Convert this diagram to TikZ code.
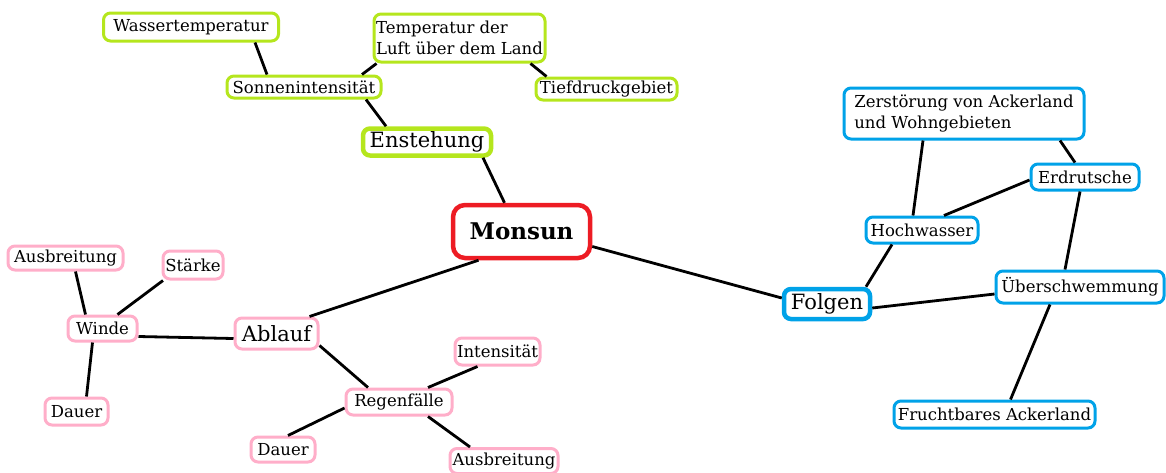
\documentclass[tikz,border=0pt]{standalone}
\usepackage{fontspec}
\setmainfont{DejaVu Serif}
\definecolor{PaintGreen}{HTML}{B5E61D}
\definecolor{PaintRed}{HTML}{ED1C24}
\definecolor{PaintBlue}{HTML}{00A2E8}
\definecolor{PaintPink}{HTML}{FFAEC9}

\begin{document}
\begin{tikzpicture}[x=1pt, y=-1pt,
    box/.style={draw=#1, rounded corners=7pt, line width=3pt, fill=white, text=black,
        inner xsep=2pt, inner ysep=1pt, font=\fontsize{16.5}{21}\selectfont},
    bigbox/.style={box=#1, line width=4.5pt, font=\fontsize{21}{24}\selectfont},
    link/.style={line width=2.8pt, black}]

\clip (0,0) rectangle (1166,472);

% Enstehung
\node[box=PaintGreen, minimum width=175, minimum height=28] (was) at (191,27) {Wassertemperatur};
\node[box=PaintGreen, minimum width=171, minimum height=48, align=left] (temp) at (459.5,38) {Temperatur der\\Luft über dem Land};
\node[box=PaintGreen, minimum width=154, minimum height=22] (sonne) at (304,87) {Sonnenintensität};
\node[box=PaintGreen, minimum width=141, minimum height=22] (tief) at (606.5,89) {Tiefdruckgebiet};
\node[bigbox=PaintGreen, minimum width=128, minimum height=27] (enst) at (427,142) {Enstehung};

% Mitte
\node[bigbox=PaintRed, minimum width=137, minimum height=53, rounded corners=12pt,
    font=\fontsize{23}{26}\selectfont\bfseries] (monsun) at (521.5,231.5) {Monsun};

% Folgen
\node[bigbox=PaintBlue, minimum width=86, minimum height=30] (folgen) at (827,304) {Folgen};
\node[box=PaintBlue, minimum width=240, minimum height=51, align=left] (zerst) at (964,113.5) {Zerstörung von Ackerland\\und Wohngebieten};
\node[box=PaintBlue, minimum width=108, minimum height=26] (erd) at (1085,177) {Erdrutsche};
\node[box=PaintBlue, minimum width=112, minimum height=26] (hoch) at (922,230) {Hochwasser};
\node[box=PaintBlue, minimum width=168, minimum height=32] (ueber) at (1080,287) {Überschwemmung};
\node[box=PaintBlue, minimum width=201, minimum height=27] (frucht) at (994.5,414.5) {Fruchtbares Ackerland};

% Ablauf
\node[bigbox=PaintPink, line width=3pt, minimum width=83, minimum height=31] (ablauf) at (276.5,333.5) {Ablauf};
\node[box=PaintPink, minimum width=69, minimum height=25] (winde) at (102.5,328.5) {Winde};
\node[box=PaintPink, minimum width=115, minimum height=24] (ausb1) at (65.5,258) {Ausbreitung};
\node[box=PaintPink, minimum width=60, minimum height=28] (staerke) at (193,265) {Stärke};
\node[box=PaintPink, minimum width=63, minimum height=27] (dauer1) at (76.5,411.5) {Dauer};
\node[box=PaintPink, minimum width=106, minimum height=26] (regen) at (399,402) {Regenfälle};
\node[box=PaintPink, minimum width=85, minimum height=27] (intens) at (497.5,351.5) {Intensität};
\node[box=PaintPink, minimum width=64, minimum height=25] (dauer2) at (283,449.5) {Dauer};
\node[box=PaintPink, minimum width=108, minimum height=25] (ausb2) at (504,461) {Ausbreitung};

% Verbindungen
\draw[link] ([xshift=64pt]was.south) -- ([xshift=-37pt]sonne.north);
\draw[link] ([xshift=58pt]sonne.north) -- ([xshift=-83pt]temp.south);
\draw[link] ([xshift=71pt]temp.south) -- ([xshift=-60pt]tief.north);
\draw[link] ([xshift=62pt]sonne.south) -- ([xshift=-41pt]enst.north);
\draw[link] ([xshift=56pt]enst.south) -- ([xshift=-17pt]monsun.north);
\draw[link] ([xshift=-43pt]monsun.south) -- ([xshift=33pt]ablauf.north);
\draw[link] ([yshift=-15pt]monsun.east) -- ([yshift=6pt]folgen.west);

\draw[link] ([yshift=-5pt]ablauf.west) -- ([yshift=-8pt]winde.east);
\draw[link] ([xshift=-17pt]winde.north) -- ([xshift=10pt]ausb1.south);
\draw[link] ([xshift=15pt]winde.north) -- ([xshift=-30pt]staerke.south);
\draw[link] ([xshift=-10pt]winde.south) -- ([xshift=10pt]dauer1.north);
\draw[link] ([yshift=-12pt]ablauf.east) -- ([xshift=-31pt]regen.north);
\draw[link] ([xshift=29pt]regen.north) -- ([xshift=-20pt]intens.south);
\draw[link] ([yshift=-6pt]regen.west) -- ([xshift=5pt]dauer2.north);
\draw[link] ([xshift=29pt]regen.south) -- ([xshift=-34pt]ausb2.north);

\draw[link] ([xshift=39pt]folgen.north) -- ([xshift=-30pt]hoch.south);
\draw[link] ([yshift=-4pt]folgen.east) -- ([yshift=-7pt]ueber.west);
\draw[link] ([xshift=-9pt]hoch.north) -- ([xshift=-41pt]zerst.south);
\draw[link] ([xshift=22pt]hoch.north) -- ([yshift=-3pt]erd.west);
\draw[link] ([xshift=96pt]zerst.south) -- ([xshift=-10pt]erd.north);
\draw[link] ([xshift=-5pt]erd.south) -- ([xshift=-15pt]ueber.north);
\draw[link] ([xshift=-30pt]ueber.south) -- ([xshift=16pt]frucht.north);

\end{tikzpicture}
\end{document}
